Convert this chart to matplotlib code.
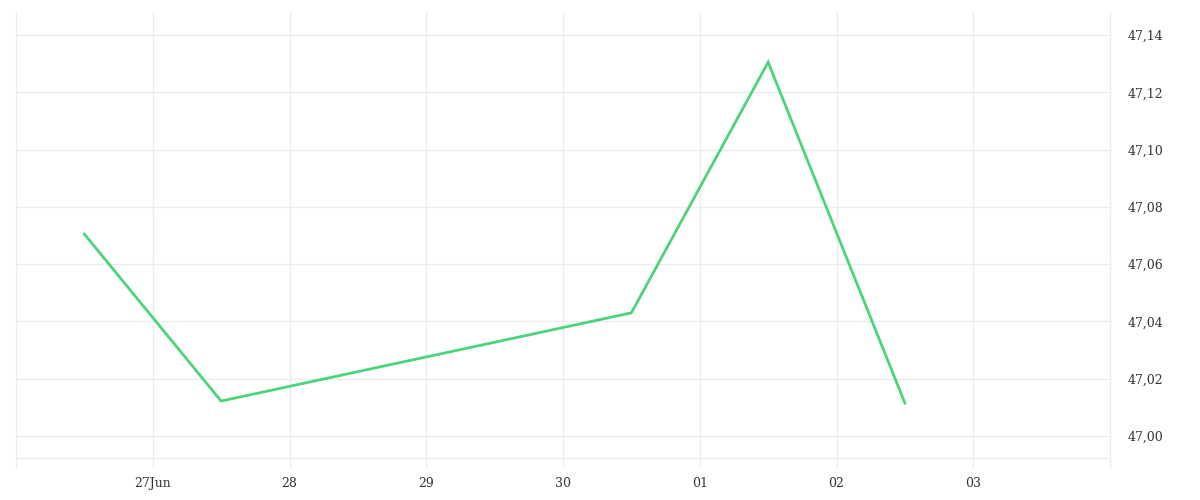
import numpy as np
import pandas as pd
import matplotlib
matplotlib.use("Agg")
import matplotlib.pyplot as plt
import matplotlib.dates as mdates
from matplotlib.ticker import FuncFormatter

# data (points sit at mid-day)
dates = pd.to_datetime(["2023-06-26 12:00", "2023-06-27 12:00", "2023-06-30 12:00",
                        "2023-07-01 12:00", "2023-07-02 12:00"])
values = [47.0705, 47.0122, 47.0430, 47.1305, 47.0115]

tick_dates = pd.to_datetime(["2023-06-27", "2023-06-28", "2023-06-29", "2023-06-30",
                             "2023-07-01", "2023-07-02", "2023-07-03"])
tick_labels = ["27Jun", "28", "29", "30", "01", "02", "03"]
y_ticks = [47.00, 47.02, 47.04, 47.06, 47.08, 47.10, 47.12, 47.14]

grid_col = "#ececec"
text_col = "#333333"
plt.rcParams["font.family"] = ["DejaVu Serif"]

fig = plt.figure(figsize=(12, 5), dpi=100)
W, H = 1200, 500
# axes box in pixels: x 16..1110, y 12..468 (from top)
ax = fig.add_axes([16 / W, 1 - 468 / H, (1110 - 16) / W, (468 - 12) / H])

ax.plot(dates, values, color="#4cd37b", linewidth=2, solid_joinstyle="miter")

ax.set_xlim(pd.Timestamp("2023-06-26"), pd.Timestamp("2023-07-04"))
ax.set_ylim(46.98883, 47.14803)

ax.set_xticks(mdates.date2num(tick_dates))
ax.set_xticklabels(tick_labels)
ax.set_yticks(y_ticks)
ax.yaxis.set_major_formatter(FuncFormatter(lambda v, p: f"{v:.2f}".replace(".", ",")))
ax.yaxis.tick_right()

ax.grid(True, color=grid_col, linewidth=1)
ax.set_axisbelow(True)
ax.axhline(46.9923, color=grid_col, linewidth=1, zorder=0)

ax.tick_params(axis="both", length=0, labelsize=9, labelcolor=text_col)
ax.tick_params(axis="x", pad=6.5)
ax.tick_params(axis="y", pad=12.5)

for side in ["top", "bottom"]:
    ax.spines[side].set_visible(False)
for side in ["left", "right"]:
    ax.spines[side].set_color(grid_col)
    ax.spines[side].set_linewidth(1)

fig.savefig("out.png", dpi=100, facecolor="white")
